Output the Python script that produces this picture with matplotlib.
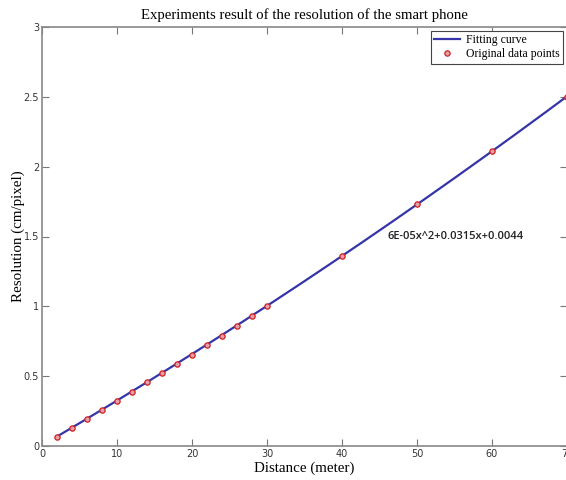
import numpy as np
import matplotlib
matplotlib.use("Agg")
import matplotlib.pyplot as plt

distance = [2, 4, 6, 8, 10, 12, 14, 16, 18, 20, 22, 24, 26, 28, 30, 40, 50, 60, 70]
resolution = [0.066, 0.13, 0.195, 0.26, 0.325, 0.39, 0.455, 0.52, 0.59, 0.655,
              0.725, 0.79, 0.86, 0.93, 1.0, 1.36, 1.73, 2.11, 2.5]

# Quadratic fit coefficients as printed on the chart
fit_coef = [6e-05, 0.0315, 0.0044]
fit_label = "6E-05x^2+0.0315x+0.0044"

xticks = [0, 10, 20, 30, 40, 50, 60, 70]
yticks = [0, 0.5, 1, 1.5, 2, 2.5, 3]
yticklabels = ["0", "0.5", "1", "1.5", "2", "2.5", "3"]

fig = plt.figure(figsize=(5.66, 4.8), dpi=100)
ax = fig.add_axes([42 / 566, 34 / 480, 525 / 566, 419 / 480])

x_fit = np.linspace(min(distance), max(distance), 200)
ax.plot(x_fit, np.polyval(fit_coef, x_fit), color="#3535a8", lw=1.6, label="Fitting curve")
ax.plot(distance, resolution, "o", ms=3.8, mfc="#e6a0ac", mec="#d02020", mew=0.9,
        ls="none", label="Original data points")

ax.set_xlim(0, 70)
ax.set_ylim(0, 3)
ax.set_xticks(xticks)
ax.set_yticks(yticks)
ax.set_yticklabels(yticklabels)
ax.tick_params(direction="in", length=5, width=0.8, color="#777777",
               top=True, right=True, labelsize=7, pad=2, labelcolor="#333333")
for s in ax.spines.values():
    s.set_color("#888888")
    s.set_linewidth(1.2)

serif = "Liberation Serif"
ax.set_title("Experiments result of the resolution of the smart phone",
             fontsize=10.6, family=serif, pad=6)
ax.set_xlabel("Distance (meter)", fontsize=10.8, family=serif)
ax.set_ylabel("Resolution (cm/pixel)", fontsize=10.8, family=serif)
ax.xaxis.set_label_coords(0.5, -0.052, transform=ax.transAxes)
ax.xaxis.label.set_va("center")
ax.yaxis.set_label_coords(-0.045, 0.5, transform=ax.transAxes)
ax.yaxis.label.set_va("center")

ax.text(46.1, 1.5, fit_label, fontsize=8, family="Open Sans", fontweight="semibold",
        va="center", ha="left", color="#222222")

leg = ax.legend(loc="upper right", prop={"family": serif, "size": 8.5},
                fancybox=False, edgecolor="#444444", framealpha=1,
                borderaxespad=0.3, handlelength=2.2, handletextpad=0.5,
                borderpad=0.3, labelspacing=0.2)
leg.get_frame().set_linewidth(0.8)

fig.savefig("out.png", dpi=100)
